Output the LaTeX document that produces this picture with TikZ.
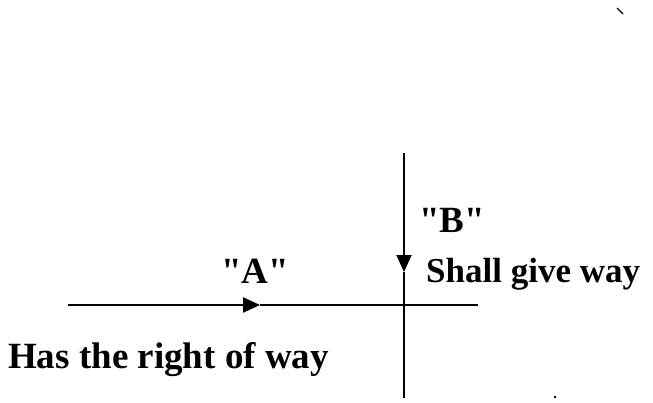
\documentclass[tikz,border=0pt]{standalone}
\usepackage{fontspec}
\setmainfont{Liberation Serif}[Ligatures=TeXOff]
\usetikzlibrary{arrows.meta}
\tikzset{
  every picture/.style={draw=black, text=black},
}

\begin{document}
\begin{tikzpicture}[x=1pt, y=-1pt,
  sign/.style={inner sep=0pt, font=\bfseries\fontsize{37}{41}\selectfont},
  lane/.style={line width=1.6pt},
  lanearrow/.style={line width=2.4pt, -{Triangle[length=17pt,width=15pt]}}]

\useasboundingbox (0,0) rectangle (653,402);

%% Road of "A" (left to right)
\coordinate (aStart) at (68,305);
\coordinate (aTip)   at (260,305);
\coordinate (aEnd)   at (478,305);
\draw[lanearrow] (aStart) -- (aTip);
\draw[lane] (aTip) -- (aEnd);

%% Road of "B" (top to bottom)
\coordinate (bStart) at (404,153);
\coordinate (bTip)   at (404,272);
\coordinate (bEnd)   at (404,398);
\draw[lanearrow, line width=2pt] (bStart) -- (bTip);
\draw[lane, line width=2pt] (bTip) -- (bEnd);

%% Labels
\node[sign, anchor=base] (nameA) at (255,283) {"A"};
\node[sign, anchor=base west] (rightA) at (8,368) {Has the right of way};
\node[sign, anchor=base west] (nameB) at (419,232) {"B"};
\node[sign, anchor=base west, font=\bfseries\fontsize{35}{39}\selectfont]
  (yieldB) at (426,282) {Shall give way};

%% Stray marks
\draw[line width=1.4pt] (617,8) -- (623,14);
\fill (554,396) rectangle (556,398);

\end{tikzpicture}
\end{document}
